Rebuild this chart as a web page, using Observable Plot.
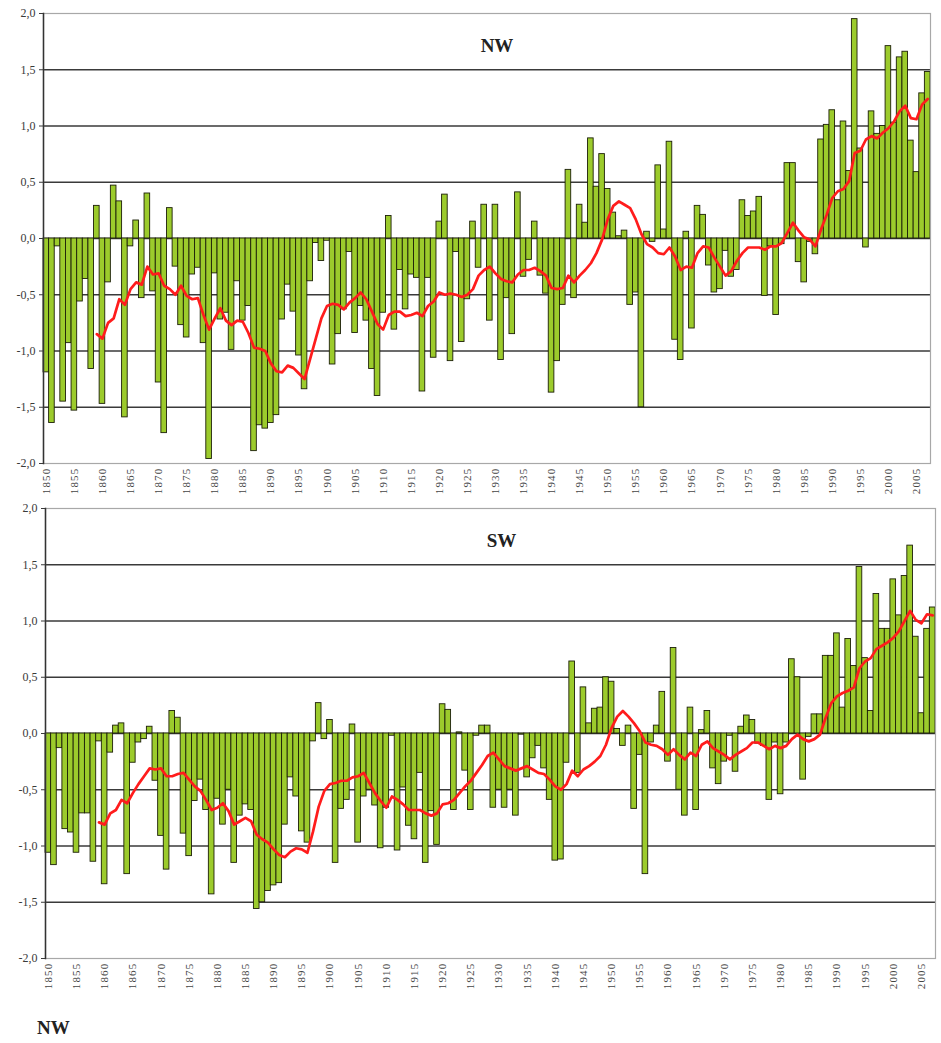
<!DOCTYPE html>
<html>
<head>
<meta charset="utf-8">
<script src="https://cdn.jsdelivr.net/npm/d3@7"></script>
<script src="https://cdn.jsdelivr.net/npm/@observablehq/plot@0.6"></script>
<style>
  html, body { margin: 0; padding: 0; background: #fff; }
  #wrap { position: relative; width: 941px; height: 1043px; }
  #wrap svg { display: block; }
  #wrap g[aria-label="x-axis tick label"] text { letter-spacing: 1.2px; }
  #caption { position: absolute; left: 37px; top: 1018px; font: bold 19px "Liberation Serif", serif; line-height: 20px; color: #222; }
</style>
</head>
<body>
<div id="wrap"></div>
<script>
// ---- data ----
const startYear = 1850, endYear = 2007;
const smoothStart = 1859;

const nwValues = [
  -1.19, -1.64, -0.07, -1.45, -0.93, -1.53, -0.56, -0.36, -1.16, 0.29,
  -1.47, -0.39, 0.47, 0.33, -1.59, -0.07, 0.16, -0.53, 0.40, -0.47,
  -1.28, -1.73, 0.27, -0.25, -0.77, -0.88, -0.32, -0.26, -0.93, -1.96,
  -0.31, -0.72, -0.66, -0.99, -0.38, -0.73, -0.60, -1.89, -1.66, -1.69,
  -1.64, -1.57, -0.72, -0.41, -0.65, -1.04, -1.34, -0.38, -0.04, -0.20,
  -0.02, -1.12, -0.85, -0.63, -0.12, -0.84, -0.60, -0.73, -1.16, -1.40,
  -0.66, 0.20, -0.81, -0.28, -0.63, -0.32, -0.35, -1.36, -0.35, -1.06,
  0.15, 0.39, -1.09, -0.12, -0.92, -0.54, 0.15, -0.26, 0.30, -0.73,
  0.30, -1.08, -0.53, -0.85, 0.41, -0.34, -0.19, 0.15, -0.33, -0.49,
  -1.37, -1.09, -0.59, 0.61, -0.53, 0.30, 0.14, 0.89, 0.46, 0.75,
  0.44, 0.23, 0.02, 0.07, -0.59, -0.48, -1.50, 0.06, -0.03, 0.65,
  0.08, 0.86, -0.90, -1.08, 0.06, -0.80, 0.29, 0.21, -0.24, -0.48,
  -0.45, -0.11, -0.34, -0.28, 0.34, 0.20, 0.24, 0.37, -0.51, -0.07,
  -0.68, -0.05, 0.67, 0.67, -0.21, -0.39, -0.03, -0.14, 0.88, 1.01,
  1.14, 0.34, 1.04, 0.60, 1.95, 0.80, -0.08, 1.13, 0.93, 1.00,
  1.71, 1.03, 1.61, 1.66, 0.87, 0.59, 1.29, 1.48
];

const swValues = [
  -1.06, -1.17, -0.13, -0.85, -0.88, -1.06, -0.71, -0.71, -1.14, -0.07,
  -1.34, -0.17, 0.07, 0.09, -1.25, -0.26, -0.08, -0.05, 0.06, -0.42,
  -0.91, -1.21, 0.20, 0.14, -0.89, -1.09, -0.60, -0.41, -0.68, -1.43,
  -0.58, -0.81, -0.50, -1.15, -0.73, -0.63, -0.68, -1.56, -1.50, -1.40,
  -1.35, -1.33, -0.81, -0.39, -0.56, -0.87, -0.97, -0.07, 0.27, -0.05,
  0.12, -1.15, -0.67, -0.59, 0.08, -0.97, -0.56, -0.50, -0.64, -1.02,
  -0.66, -0.02, -1.04, -0.48, -0.82, -0.94, -0.35, -1.15, -0.69, -0.99,
  0.26, 0.21, -0.68, 0.01, -0.33, -0.68, -0.02, 0.07, 0.07, -0.66,
  -0.50, -0.66, -0.50, -0.73, -0.01, -0.39, -0.22, -0.11, -0.31, -0.59,
  -1.13, -1.12, -0.26, 0.64, -0.35, 0.41, 0.09, 0.22, 0.23, 0.50,
  0.46, 0.04, -0.11, 0.07, -0.67, -0.19, -1.25, -0.08, 0.07, 0.37,
  -0.25, 0.76, -0.50, -0.73, 0.23, -0.68, 0.03, 0.20, -0.31, -0.45,
  -0.25, -0.02, -0.34, 0.06, 0.16, 0.12, -0.09, -0.11, -0.59, -0.08,
  -0.54, -0.08, 0.66, 0.50, -0.41, -0.03, 0.17, 0.17, 0.69, 0.69,
  0.89, 0.23, 0.84, 0.60, 1.48, 0.67, 0.20, 1.24, 0.93, 0.93,
  1.37, 1.05, 1.40, 1.67, 0.86, 0.18, 0.93, 1.12
];

// smoothed (red) curves, 1859..2007
const nwSmooth = [
  -0.85,
  -0.89, -0.75, -0.71, -0.54, -0.59, -0.45, -0.39, -0.41, -0.25, -0.32,
  -0.31, -0.42, -0.45, -0.50, -0.42, -0.51, -0.54, -0.53, -0.68, -0.81,
  -0.71, -0.62, -0.73, -0.77, -0.73, -0.74, -0.84, -0.97, -0.98, -1.00,
  -1.11, -1.18, -1.19, -1.13, -1.15, -1.20, -1.25, -1.07, -0.89, -0.71,
  -0.60, -0.58, -0.59, -0.63, -0.57, -0.53, -0.48, -0.54, -0.65, -0.76,
  -0.81, -0.68, -0.65, -0.65, -0.69, -0.68, -0.66, -0.69, -0.60, -0.56,
  -0.48, -0.50, -0.49, -0.50, -0.52, -0.50, -0.45, -0.33, -0.28, -0.25,
  -0.31, -0.36, -0.38, -0.39, -0.32, -0.28, -0.28, -0.26, -0.29, -0.33,
  -0.44, -0.45, -0.44, -0.33, -0.39, -0.33, -0.28, -0.22, -0.13, -0.01,
  0.17, 0.29, 0.33, 0.30, 0.27, 0.17, 0.04, -0.05, -0.08, -0.13,
  -0.14, -0.08, -0.16, -0.28, -0.25, -0.26, -0.13, -0.07, -0.08, -0.17,
  -0.25, -0.33, -0.29, -0.20, -0.13, -0.08, -0.08, -0.08, -0.10, -0.07,
  -0.07, -0.04, 0.05, 0.14, 0.07, 0.01, -0.01, -0.07, 0.08, 0.21,
  0.36, 0.42, 0.44, 0.51, 0.76, 0.78, 0.88, 0.91, 0.89, 0.94,
  0.98, 1.04, 1.13, 1.18, 1.07, 1.06, 1.19, 1.24
];

const swSmooth = [
  -0.79,
  -0.81, -0.71, -0.68, -0.59, -0.62, -0.53, -0.45, -0.38, -0.31, -0.32,
  -0.31, -0.38, -0.38, -0.36, -0.35, -0.41, -0.47, -0.51, -0.59, -0.68,
  -0.66, -0.62, -0.69, -0.81, -0.78, -0.75, -0.78, -0.90, -0.94, -0.97,
  -1.03, -1.08, -1.10, -1.05, -1.02, -1.03, -1.06, -0.87, -0.65, -0.51,
  -0.45, -0.44, -0.42, -0.42, -0.39, -0.38, -0.35, -0.44, -0.53, -0.60,
  -0.66, -0.56, -0.59, -0.63, -0.68, -0.68, -0.68, -0.71, -0.73, -0.71,
  -0.63, -0.62, -0.59, -0.53, -0.47, -0.42, -0.35, -0.28, -0.20, -0.17,
  -0.23, -0.29, -0.31, -0.33, -0.31, -0.29, -0.32, -0.35, -0.36, -0.41,
  -0.47, -0.50, -0.45, -0.33, -0.38, -0.32, -0.29, -0.25, -0.20, -0.10,
  0.05, 0.15, 0.20, 0.15, 0.09, 0.02, -0.08, -0.10, -0.11, -0.14,
  -0.19, -0.14, -0.19, -0.23, -0.17, -0.20, -0.10, -0.07, -0.13, -0.16,
  -0.19, -0.23, -0.19, -0.16, -0.13, -0.08, -0.08, -0.11, -0.14, -0.11,
  -0.13, -0.11, -0.05, -0.01, -0.05, -0.07, -0.05, -0.01, 0.14, 0.27,
  0.33, 0.36, 0.38, 0.41, 0.58, 0.64, 0.67, 0.75, 0.78, 0.81,
  0.85, 0.91, 1.00, 1.09, 1.01, 0.98, 1.06, 1.05
];

const yTicks = [-2, -1.5, -1, -0.5, 0, 0.5, 1, 1.5, 2];
const gridLines = [-1.5, -1, -0.5, 0, 0.5, 1, 1.5];
const xTickYears = [1850, 1855, 1860, 1865, 1870, 1875, 1880, 1885, 1890, 1895,
  1900, 1905, 1910, 1915, 1920, 1925, 1930, 1935, 1940, 1945, 1950, 1955,
  1960, 1965, 1970, 1975, 1980, 1985, 1990, 1995, 2000, 2005];
const panelTitles = ["NW", "SW"];
const captionText = "NW";

// ---- chart ----
const years = d3.range(startYear, endYear + 1);
const FONT = "Liberation Serif";
const fmt = d => d.toFixed(1).replace(".", ",");

function panel(values, smooth, title, m) {
  const bars = years.map((y, i) => ({year: y, value: values[i]}));
  const line = smooth.map((v, i) => ({year: smoothStart + i, value: v}));
  return Plot.plot({
    width: 941,
    height: 495,
    marginTop: 13,
    marginBottom: 32,
    marginLeft: m.left,
    marginRight: m.right,
    style: {fontFamily: FONT, background: "transparent", overflow: "visible"},
    x: {type: "band", domain: years, padding: 0, label: null},
    y: {domain: [-2, 2], label: null},
    marks: [
      Plot.ruleY(gridLines, {stroke: "#3a3a3a", strokeWidth: 1.3}),
      Plot.barY(bars, {x: "year", y: "value", fill: "#9ccb2c", stroke: "#1c1f08", strokeWidth: 0.9}),
      Plot.lineY(line, {x: "year", y: "value", stroke: "#ff1c1c", strokeWidth: 2.7, strokeLinejoin: "round"}),
      Plot.frame({stroke: "#a8a8a8", strokeWidth: 1.2}),
      Plot.frame({anchor: "left", stroke: "#333", strokeWidth: 1.5}),
      Plot.axisY({ticks: yTicks, tickFormat: fmt, tickSize: 4, tickPadding: 4, fontSize: 12, fontFamily: FONT, color: "#3a3a3a", label: null}),
      Plot.axisX({ticks: xTickYears, tickFormat: d => String(d), tickRotate: -90, tickSize: 0, tickPadding: 4, fontSize: 11, fontFamily: FONT, color: "#444", label: null}),
      Plot.text([title], {frameAnchor: "top", dy: 32, dx: m.titleDx, text: d => d, fontSize: 19, fontWeight: "bold", fontFamily: FONT, fill: "#222", lineAnchor: "middle"})
    ]
  });
}

const wrap = document.getElementById("wrap");
wrap.appendChild(panel(nwValues, nwSmooth, panelTitles[0], {left: 43, right: 11, titleDx: 10}));
wrap.appendChild(panel(swValues, swSmooth, panelTitles[1], {left: 45, right: 6, titleDx: 11}));
const cap = document.createElement("div");
cap.id = "caption";
cap.textContent = captionText;
wrap.appendChild(cap);
</script>
</body>
</html>
